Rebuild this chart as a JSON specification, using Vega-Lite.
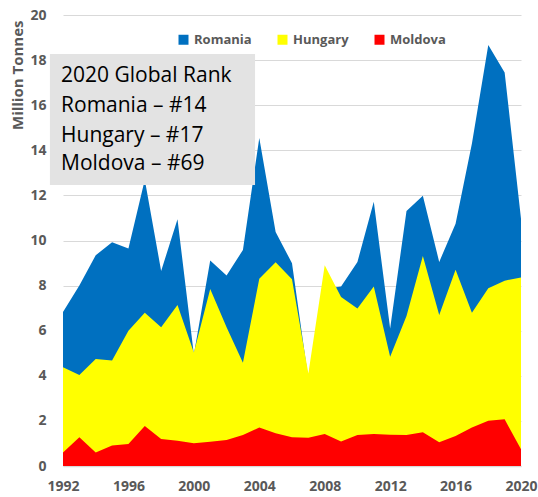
{
  "$schema": "https://vega.github.io/schema/vega-lite/v6.json",
  "width": 458,
  "height": 451,
  "autosize": {"type": "none"},
  "padding": {"left": 63, "top": 15, "right": 17, "bottom": 31},
  "background": "white",
  "config": {"view": {"stroke": null}, "font": "Open Sans"},
  "datasets": {
    "prod": [
      {"country": "Romania", "year": 1992, "value": 6.83},
      {"country": "Romania", "year": 1993, "value": 8.0},
      {"country": "Romania", "year": 1994, "value": 9.35},
      {"country": "Romania", "year": 1995, "value": 9.92},
      {"country": "Romania", "year": 1996, "value": 9.64},
      {"country": "Romania", "year": 1997, "value": 12.69},
      {"country": "Romania", "year": 1998, "value": 8.65},
      {"country": "Romania", "year": 1999, "value": 10.94},
      {"country": "Romania", "year": 2000, "value": 4.95},
      {"country": "Romania", "year": 2001, "value": 9.11},
      {"country": "Romania", "year": 2002, "value": 8.45},
      {"country": "Romania", "year": 2003, "value": 9.58},
      {"country": "Romania", "year": 2004, "value": 14.55},
      {"country": "Romania", "year": 2005, "value": 10.38},
      {"country": "Romania", "year": 2006, "value": 8.99},
      {"country": "Romania", "year": 2007, "value": 3.85},
      {"country": "Romania", "year": 2008, "value": 7.85},
      {"country": "Romania", "year": 2009, "value": 7.96},
      {"country": "Romania", "year": 2010, "value": 9.05},
      {"country": "Romania", "year": 2011, "value": 11.72},
      {"country": "Romania", "year": 2012, "value": 6.1},
      {"country": "Romania", "year": 2013, "value": 11.31},
      {"country": "Romania", "year": 2014, "value": 11.98},
      {"country": "Romania", "year": 2015, "value": 9.05},
      {"country": "Romania", "year": 2016, "value": 10.74},
      {"country": "Romania", "year": 2017, "value": 14.3},
      {"country": "Romania", "year": 2018, "value": 18.67},
      {"country": "Romania", "year": 2019, "value": 17.45},
      {"country": "Romania", "year": 2020, "value": 10.97},
      {"country": "Hungary", "year": 1992, "value": 4.38},
      {"country": "Hungary", "year": 1993, "value": 4.04},
      {"country": "Hungary", "year": 1994, "value": 4.75},
      {"country": "Hungary", "year": 1995, "value": 4.68},
      {"country": "Hungary", "year": 1996, "value": 6.0},
      {"country": "Hungary", "year": 1997, "value": 6.8},
      {"country": "Hungary", "year": 1998, "value": 6.15},
      {"country": "Hungary", "year": 1999, "value": 7.14},
      {"country": "Hungary", "year": 2000, "value": 5.03},
      {"country": "Hungary", "year": 2001, "value": 7.85},
      {"country": "Hungary", "year": 2002, "value": 6.15},
      {"country": "Hungary", "year": 2003, "value": 4.58},
      {"country": "Hungary", "year": 2004, "value": 8.3},
      {"country": "Hungary", "year": 2005, "value": 9.03},
      {"country": "Hungary", "year": 2006, "value": 8.28},
      {"country": "Hungary", "year": 2007, "value": 4.1},
      {"country": "Hungary", "year": 2008, "value": 8.9},
      {"country": "Hungary", "year": 2009, "value": 7.5},
      {"country": "Hungary", "year": 2010, "value": 6.99},
      {"country": "Hungary", "year": 2011, "value": 7.96},
      {"country": "Hungary", "year": 2012, "value": 4.85},
      {"country": "Hungary", "year": 2013, "value": 6.65},
      {"country": "Hungary", "year": 2014, "value": 9.31},
      {"country": "Hungary", "year": 2015, "value": 6.7},
      {"country": "Hungary", "year": 2016, "value": 8.7},
      {"country": "Hungary", "year": 2017, "value": 6.8},
      {"country": "Hungary", "year": 2018, "value": 7.88},
      {"country": "Hungary", "year": 2019, "value": 8.22},
      {"country": "Hungary", "year": 2020, "value": 8.36},
      {"country": "Moldova", "year": 1992, "value": 0.6},
      {"country": "Moldova", "year": 1993, "value": 1.27},
      {"country": "Moldova", "year": 1994, "value": 0.6},
      {"country": "Moldova", "year": 1995, "value": 0.91},
      {"country": "Moldova", "year": 1996, "value": 0.98},
      {"country": "Moldova", "year": 1997, "value": 1.77},
      {"country": "Moldova", "year": 1998, "value": 1.2},
      {"country": "Moldova", "year": 1999, "value": 1.12},
      {"country": "Moldova", "year": 2000, "value": 1.01},
      {"country": "Moldova", "year": 2001, "value": 1.08},
      {"country": "Moldova", "year": 2002, "value": 1.15},
      {"country": "Moldova", "year": 2003, "value": 1.37},
      {"country": "Moldova", "year": 2004, "value": 1.71},
      {"country": "Moldova", "year": 2005, "value": 1.45},
      {"country": "Moldova", "year": 2006, "value": 1.28},
      {"country": "Moldova", "year": 2007, "value": 1.25},
      {"country": "Moldova", "year": 2008, "value": 1.42},
      {"country": "Moldova", "year": 2009, "value": 1.09},
      {"country": "Moldova", "year": 2010, "value": 1.37},
      {"country": "Moldova", "year": 2011, "value": 1.42},
      {"country": "Moldova", "year": 2012, "value": 1.39},
      {"country": "Moldova", "year": 2013, "value": 1.37},
      {"country": "Moldova", "year": 2014, "value": 1.5},
      {"country": "Moldova", "year": 2015, "value": 1.05},
      {"country": "Moldova", "year": 2016, "value": 1.33},
      {"country": "Moldova", "year": 2017, "value": 1.71},
      {"country": "Moldova", "year": 2018, "value": 2.01},
      {"country": "Moldova", "year": 2019, "value": 2.07},
      {"country": "Moldova", "year": 2020, "value": 0.74}
    ],
    "box": [{"x": 1991.2, "x2": 2003.74, "y": 18.27, "y2": 12.46}],
    "notes": [
      {"line": "2020 Global Rank", "x": 1991.88, "y": 17.3},
      {"line": "Romania – #14", "x": 1991.88, "y": 15.97},
      {"line": "Hungary – #17", "x": 1991.88, "y": 14.64},
      {"line": "Moldova – #69", "x": 1991.88, "y": 13.4}
    ]
  },
  "layer": [
    {
      "data": {"name": "prod"},
      "transform": [{"filter": "datum.country === 'Romania'"}],
      "mark": {"type": "area", "interpolate": "linear"},
      "encoding": {
        "x": {
          "field": "year", "type": "quantitative",
          "scale": {"domain": [1992, 2020], "nice": false, "zero": false},
          "axis": {
            "values": [1992, 1996, 2000, 2004, 2008, 2012, 2016, 2020],
            "format": "d", "title": null, "grid": false, "ticks": false,
            "domainColor": "#D9D9D9", "domainWidth": 1.5, "labelFlush": false,
            "labelFont": "Open Sans", "labelFontSize": 14, "labelFontWeight": "bold",
            "labelColor": "#595959", "labelPadding": 13
          }
        },
        "y": {
          "field": "value", "type": "quantitative", "stack": null,
          "scale": {"domain": [0, 20], "nice": false},
          "axis": {
            "values": [0, 2, 4, 6, 8, 10, 12, 14, 16, 18, 20],
            "title": "Million Tonnes", "grid": true, "gridColor": "#D9D9D9", "gridWidth": 1.2,
            "domain": false, "ticks": false, "labelPadding": 17,
            "labelFont": "Open Sans", "labelFontSize": 14, "labelFontWeight": "bold",
            "labelColor": "#595959",
            "titleAngle": -90, "titleX": -46, "titleY": 5, "titleAlign": "right",
            "titleBaseline": "middle", "titleFont": "Open Sans", "titleFontSize": 15,
            "titleFontWeight": "bold", "titleColor": "#595959"
          }
        },
        "color": {
          "field": "country", "type": "nominal",
          "scale": {"domain": ["Romania", "Hungary", "Moldova"], "range": ["#0070C0", "#FFFF00", "#FF0000"]},
          "legend": {
            "orient": "none", "legendX": 114, "legendY": 18, "direction": "horizontal",
            "title": null, "symbolType": "square", "symbolSize": 100, "symbolStrokeWidth": 0,
            "symbolOpacity": 1, "labelFont": "Open Sans", "labelFontSize": 13,
            "labelFontWeight": "bold", "labelColor": "#595959", "columnPadding": 24, "labelOffset": 4
          }
        }
      }
    },
    {
      "data": {"name": "prod"},
      "transform": [{"filter": "datum.country === 'Hungary'"}],
      "mark": {"type": "area", "interpolate": "linear"},
      "encoding": {
        "x": {"field": "year", "type": "quantitative"},
        "y": {"field": "value", "type": "quantitative", "stack": null},
        "color": {"field": "country", "type": "nominal"}
      }
    },
    {
      "data": {"name": "prod"},
      "transform": [{"filter": "datum.country === 'Moldova'"}],
      "mark": {"type": "area", "interpolate": "linear"},
      "encoding": {
        "x": {"field": "year", "type": "quantitative"},
        "y": {"field": "value", "type": "quantitative", "stack": null},
        "color": {"field": "country", "type": "nominal"}
      }
    },
    {
      "data": {"name": "box"},
      "mark": {"type": "rect", "color": "#E3E3E3"},
      "encoding": {
        "x": {"field": "x", "type": "quantitative"},
        "x2": {"field": "x2"},
        "y": {"field": "y", "type": "quantitative"},
        "y2": {"field": "y2"}
      }
    },
    {
      "data": {"name": "notes"},
      "mark": {"type": "text", "align": "left", "baseline": "middle", "font": "Open Sans", "fontSize": 21, "color": "#000000"},
      "encoding": {
        "x": {"field": "x", "type": "quantitative"},
        "y": {"field": "y", "type": "quantitative"},
        "text": {"field": "line"}
      }
    }
  ]
}
